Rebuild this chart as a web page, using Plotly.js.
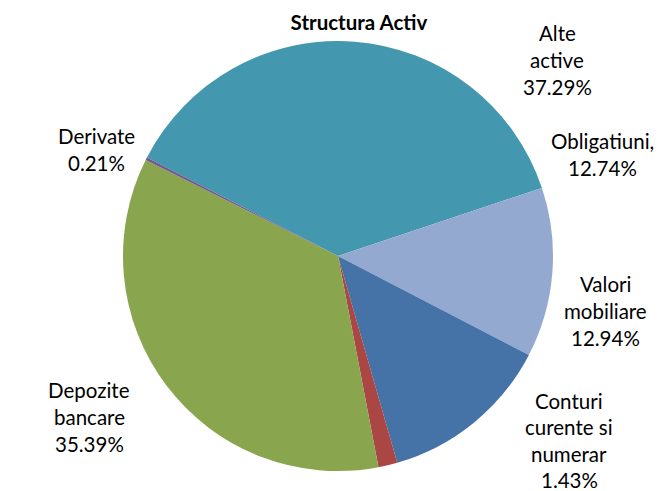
<!DOCTYPE html>
<html>
<head>
<meta charset="utf-8">
<script src="https://cdn.plot.ly/plotly-3.0.1.min.js"></script>
<style>html,body{margin:0;padding:0;background:#fff;}#chart{width:660px;height:491px;}</style>
</head>
<body>
<div id="chart"></div>
<script>
const categories = ["Alte active", "Obligatiuni,", "Valori mobiliare", "Conturi curente si numerar", "Depozite bancare", "Derivate"];
const labelLines = [["Alte", "active"], ["Obligatiuni,"], ["Valori", "mobiliare"], ["Conturi", "curente si", "numerar"], ["Depozite", "bancare"], ["Derivate"]];
const values = [37.29, 12.74, 12.94, 1.43, 35.39, 0.21];
const colors = ["#4398AF", "#93A9CF", "#4572A7", "#AA4643", "#89A54E", "#71588F"];

// label placement (pixels: centre x, first line y, line gap)
const labelPos = [[557, 33, 27], [602, 141, 27], [605, 284, 27], [569, 401, 26.3], [89, 390, 27], [96, 136, 27]];
const W = 660, H = 491;
const FONT = "Lato, 'Open Sans', sans-serif";

const annotations = [];
labelLines.forEach((lines, i) => {
  const all = lines.concat([values[i].toFixed(2) + "%"]);
  all.forEach((t, j) => {
    annotations.push({
      text: t, showarrow: false, xref: "paper", yref: "paper",
      x: labelPos[i][0] / W, y: 1 - (labelPos[i][1] + j * labelPos[i][2]) / H,
      xanchor: "center", yanchor: "middle",
      font: {family: FONT, size: 20.5, color: "#000"}
    });
  });
});

const trace = {
  type: "pie",
  labels: categories,
  values: values,
  textinfo: "none",
  sort: false,
  direction: "clockwise",
  rotation: -62.7,
  marker: {colors: colors, line: {width: 0}},
  domain: {x: [123/W, 553/W], y: [(H-471)/H, (H-41)/H]},
  hoverinfo: "label+percent",
  showlegend: false
};

const layout = {
  width: W, height: H,
  margin: {l: 0, r: 0, t: 0, b: 0},
  paper_bgcolor: "#fff",
  title: {text: "<b>Structura Activ</b>", x: 359/W, xanchor: "center", y: 1 - 23/H, yanchor: "middle",
          font: {family: FONT, size: 20.5, color: "#000"}},
  annotations: annotations,
  showlegend: false
};

Plotly.newPlot("chart", [trace], layout, {displayModeBar: false, staticPlot: true});
</script>
</body>
</html>
